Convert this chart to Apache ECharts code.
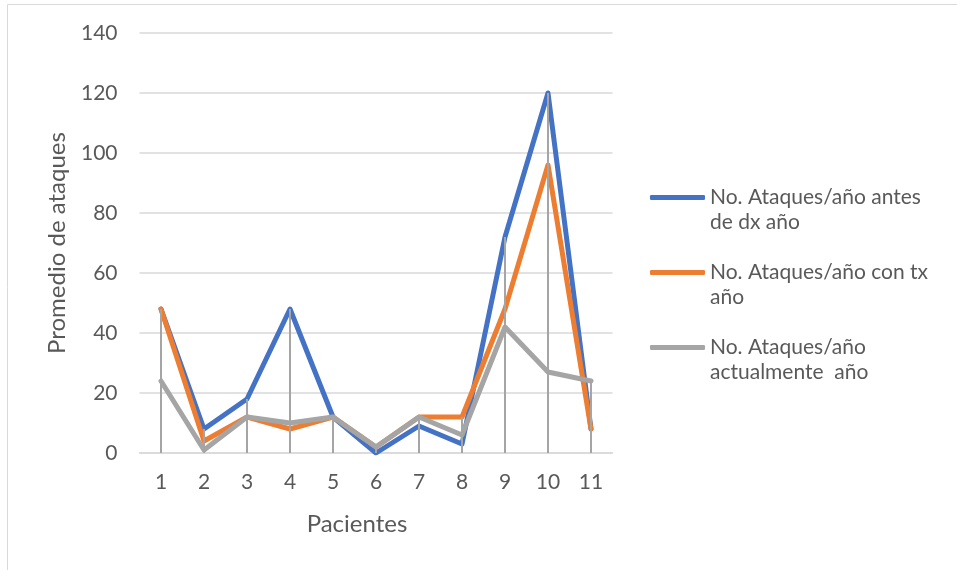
<!DOCTYPE html>
<html>
<head>
<meta charset="utf-8">
<script src="https://cdn.jsdelivr.net/npm/echarts@6/dist/echarts.min.js"></script>
<style>
  html, body { margin: 0; padding: 0; background: #fff; }
  #chart { width: 957px; height: 570px; }
</style>
</head>
<body>
<div id="chart"></div>
<script>
// data
const pacientes = ['1', '2', '3', '4', '5', '6', '7', '8', '9', '10', '11']
const antesDx = [48, 8, 18, 48, 12, 0, 9, 3, 72, 120, 8]
const conTx = [48, 4, 12, 8, 12, 2, 12, 12, 48, 96, 8]
const actualmente = [24, 1, 12, 10, 12, 2, 12, 6, 42, 27, 24]
const yTicks = [0, 20, 40, 60, 80, 100, 120, 140]

const names = [
  'No. Ataques/año antes de dx año',
  'No. Ataques/año con tx año',
  'No. Ataques/año actualmente  año'
]
// a blank first line keeps the icon level with the first text line
const wrapped = {}
wrapped[names[0]] = ' \nNo. Ataques/año antes\nde dx año'
wrapped[names[1]] = ' \nNo. Ataques/año con tx\naño'
wrapped[names[2]] = ' \nNo. Ataques/año\nactualmente  año'

// drop lines go up to the highest series at each category
const dropLines = pacientes.map((p, i) => Math.max(antesDx[i], conTx[i], actualmente[i]))

const font = 'Lato'
const textColor = '#595959'

const chart = echarts.init(document.getElementById('chart'))

function lineSeries(name, data, color) {
  return {
    name: name,
    type: 'line',
    data: data,
    symbol: 'none',
    showSymbol: false,
    z: 2,
    itemStyle: { color: color },
    lineStyle: { color: color, width: 5, cap: 'round', join: 'round' },
    animation: false
  }
}

const option = {
  animation: false,
  textStyle: { fontFamily: font },
  graphic: [{
    type: 'rect',
    shape: { x: 7.5, y: 4.5, width: 1200, height: 800 },
    style: { fill: 'none', stroke: '#d9d9d9', lineWidth: 1 },
    silent: true
  }],
  grid: {
    left: 139.5,
    right: 344.5,
    top: 33,
    bottom: 117
  },
  legend: {
    orient: 'vertical',
    left: 650,
    top: 160,
    padding: 0,
    itemGap: 0,
    itemWidth: 55,
    itemHeight: 5,
    icon: 'roundRect',
    data: names,
    formatter: function (n) { return wrapped[n] },
    textStyle: {
      fontFamily: font,
      fontSize: 21,
      color: textColor,
      lineHeight: 25
    }
  },
  xAxis: {
    type: 'category',
    data: pacientes,
    boundaryGap: true,
    name: 'Pacientes',
    nameLocation: 'middle',
    nameGap: 59,
    nameTextStyle: { fontFamily: font, fontSize: 24, color: textColor, padding: [0, 38, 0, 0] },
    axisLine: { lineStyle: { color: '#d9d9d9', width: 1.5 } },
    axisTick: { show: false },
    axisLabel: { fontFamily: font, fontSize: 21, color: textColor, margin: 19 }
  },
  yAxis: {
    type: 'value',
    min: yTicks[0],
    max: yTicks[yTicks.length - 1],
    interval: yTicks[1] - yTicks[0],
    name: 'Promedio de ataques',
    nameLocation: 'middle',
    nameGap: 70,
    nameTextStyle: { fontFamily: font, fontSize: 24, color: textColor },
    axisLine: { show: false },
    axisTick: { show: false },
    splitLine: { lineStyle: { color: '#d9d9d9', width: 1.5 } },
    axisLabel: { fontFamily: font, fontSize: 21, color: textColor, margin: 22 }
  },
  series: [
    lineSeries(names[0], antesDx, '#4472c4'),
    lineSeries(names[1], conTx, '#ed7d31'),
    lineSeries(names[2], actualmente, '#a5a5a5'),
    {
      name: 'dropLines',
      type: 'bar',
      data: dropLines,
      barWidth: 2,
      z: 5,
      silent: true,
      itemStyle: { color: '#a5a5a5' },
      animation: false
    }
  ]
}

chart.setOption(option)
</script>
</body>
</html>
